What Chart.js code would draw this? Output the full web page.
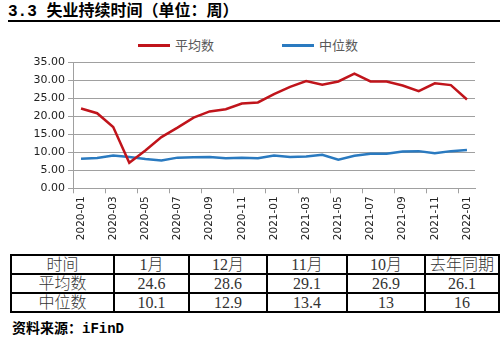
<!DOCTYPE html>
<html>
<head>
<meta charset="utf-8">
<script src="https://cdn.jsdelivr.net/npm/chart.js@4.4.1/dist/chart.umd.min.js"></script>
<style>
  body { margin: 0; width: 500px; height: 337px; background: #fff; position: relative; overflow: hidden; }
  #title { position: absolute; left: 8px; top: 3px; width: 492px; height: 17px; border-bottom: 2px solid #000;
    font: bold 16px "Liberation Mono", "Noto Sans CJK SC"; line-height: 18px; color: #000; }
  #legend { position: absolute; top: 37px; left: 0; width: 500px; height: 16px; font: 13px "Noto Sans CJK SC"; color: #595959; }
  .lg { position: absolute; top: 0; line-height: 16px; white-space: nowrap; }
  .lg i { display: inline-block; width: 32px; height: 3px; vertical-align: middle; margin-right: 5px; margin-top: -2px; }
  #wrap { position: absolute; left: 0; top: 25px; width: 500px; height: 226px; }
  table { position: absolute; left: 10px; top: 254px; border-collapse: collapse;
    font: 300 16px "Liberation Serif", "Noto Sans CJK SC"; color: #333; }
  td { border: 2px solid #000; height: 17px; line-height: 17px; text-align: center; padding: 0; }
  #src { position: absolute; left: 12px; top: 317px; font: bold 14px "Liberation Mono", "Noto Sans CJK SC"; color: #000; }
</style>
</head>
<body>
<div id="title">3.3 失业持续时间（单位：周）</div>
<div id="legend"></div>
<div id="wrap"><canvas id="myChart"></canvas></div>
<table id="tbl"></table>
<div id="src">资料来源：iFinD</div>
<script>
// months on the x axis
const months = ['2020-01', '2020-02', '2020-03', '2020-04', '2020-05', '2020-06', '2020-07', '2020-08',
  '2020-09', '2020-10', '2020-11', '2020-12', '2021-01', '2021-02', '2021-03', '2021-04', '2021-05',
  '2021-06', '2021-07', '2021-08', '2021-09', '2021-10', '2021-11', '2021-12', '2022-01'];
const seriesNames = ['平均数', '中位数'];
const avgVals = [22.1, 20.8, 17.0, 7.1, 10.5, 14.2, 16.8, 19.6, 21.3, 21.9, 23.5, 23.8, 26.1,
  28.1, 29.7, 28.7, 29.6, 31.8, 29.6, 29.6, 28.5, 26.9, 29.1, 28.6, 24.6];
const medVals = [8.2, 8.4, 9.1, 8.7, 8.1, 7.7, 8.5, 8.6, 8.7, 8.3, 8.5, 8.3, 9.1,
  8.7, 8.8, 9.3, 7.9, 9.0, 9.6, 9.6, 10.2, 10.3, 9.7, 10.3, 10.6];

// table below the chart
const tableHead = ['时间', '1月', '12月', '11月', '10月', '去年同期'];
const tableAvg = ['24.6', '28.6', '29.1', '26.9', '26.1'];
const tableMed = ['10.1', '12.9', '13.4', '13', '16'];
const colWidths = [103, 75, 78, 80, 78, 74];

const colors = ['#c0141b', '#2a7ac0'];

// legend (html)
const legendX = [138, 282];
const lg = document.getElementById('legend');
seriesNames.forEach((n, i) => {
  const s = document.createElement('span');
  s.className = 'lg';
  s.style.left = legendX[i] + 'px';
  s.innerHTML = '<i style="background:' + colors[i] + '"></i>' + n;
  lg.appendChild(s);
});

// table
const tbl = document.getElementById('tbl');
[tableHead, [seriesNames[0]].concat(tableAvg), [seriesNames[1]].concat(tableMed)].forEach(row => {
  const tr = document.createElement('tr');
  row.forEach((c, i) => {
    const td = document.createElement('td');
    td.style.width = (colWidths[i] - 2) + 'px';
    td.textContent = c;
    tr.appendChild(td);
  });
  tbl.appendChild(tr);
});

const data = {
  labels: months,
  datasets: [
    { label: seriesNames[0], data: avgVals, borderColor: colors[0], backgroundColor: colors[0] },
    { label: seriesNames[1], data: medVals, borderColor: colors[1], backgroundColor: colors[1] },
  ]
};

const gridGray = '#a0a0a0';

const config = {
  type: 'line',
  data,
  options: {
    responsive: true,
    maintainAspectRatio: false,
    animation: false,
    layout: { padding: { top: 37, right: 25, left: 0, bottom: 0 } },
    elements: {
      line: { borderWidth: 2.5, tension: 0 },
      point: { radius: 0 }
    },
    plugins: {
      legend: { display: false },
      tooltip: { enabled: false }
    },
    scales: {
      x: {
        offset: true,
        grid: {
          offset: true,
          drawOnChartArea: false,
          tickLength: 5,
          color: ctx => (ctx.index % 2 === 0 ? gridGray : 'rgba(0,0,0,0)')
        },
        border: { color: gridGray },
        ticks: {
          autoSkip: false,
          maxRotation: 90,
          minRotation: 90,
          color: '#222',
          font: { family: 'DejaVu Sans', size: 10.5 },
          callback: function (v, i) { return i % 2 === 0 ? this.getLabelForValue(v) : ''; }
        },
        afterFit: s => { s.height = 62.7; }
      },
      y: {
        min: 0,
        max: 35,
        grid: { color: gridGray, tickLength: 5 },
        border: { color: gridGray },
        ticks: {
          stepSize: 5,
          color: '#222',
          font: { family: 'DejaVu Sans', size: 11 },
          callback: v => v.toFixed(2)
        },
        afterFit: s => { s.width = 73; }
      }
    }
  }
};

const myChart = new Chart(document.getElementById('myChart'), config);
</script>
</body>
</html>
